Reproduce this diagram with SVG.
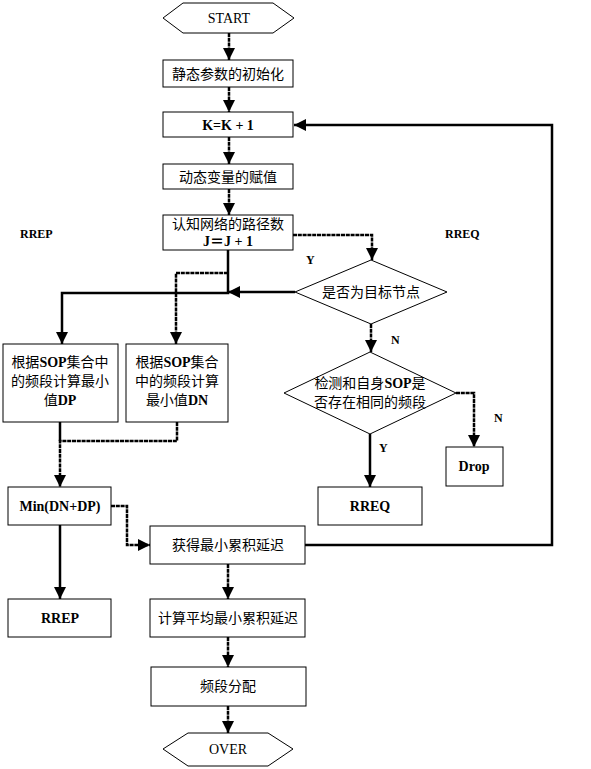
<svg xmlns="http://www.w3.org/2000/svg" width="591" height="769" viewBox="0 0 591 769">
<defs>
<marker id="ah" markerUnits="userSpaceOnUse" markerWidth="12" markerHeight="12" refX="12" refY="6" orient="auto">
<path d="M0,0 L12,6 L0,12 z" fill="#000"/>
</marker>
<style>
.box{fill:#fff;stroke:#000;stroke-width:1}
.t{font-family:"Liberation Serif","Noto Sans CJK SC",serif;font-size:14px;fill:#000;text-anchor:middle}
.b{font-weight:bold}
.lbl{font-family:"Liberation Serif",serif;font-size:12px;font-weight:bold;fill:#000}
.c{fill:none;stroke:#000;stroke-width:2.5}
.d{stroke-dasharray:4 0.8}
</style>
</defs>
<rect width="591" height="769" fill="#fff"/>
<g id="connectors">
<path class="c d" d="M229,33 V60" marker-end="url(#ah)"/>
<path class="c d" d="M229,87 V112" marker-end="url(#ah)"/>
<path class="c d" d="M229,137 V164" marker-end="url(#ah)"/>
<path class="c d" d="M229,189 V215" marker-end="url(#ah)"/>
<path class="c d" d="M293,235 H372 V260" marker-end="url(#ah)"/>
<path class="c" d="M228,250 V293 H62 V344" marker-end="url(#ah)"/>
<path class="c" d="M295,292 H228" marker-end="url(#ah)"/>
<path class="c d" d="M228,273 H176 V344" marker-end="url(#ah)"/>
<path class="c d" d="M371,324 V352" marker-end="url(#ah)"/>
<path class="c d" d="M456,393 H474 V447" marker-end="url(#ah)"/>
<path class="c" d="M370,434 V487" marker-end="url(#ah)"/>
<path class="c" d="M60,422 V441"/>
<path class="c d" d="M177,422 V441 H60 V487" marker-end="url(#ah)"/>
<path class="c d" d="M111,506 H127 V545 H150" marker-end="url(#ah)"/>
<path class="c" d="M60,525 V599" marker-end="url(#ah)"/>
<path class="c" d="M305,545 H552 V125 H294" marker-end="url(#ah)"/>
<path class="c d" d="M228,564 V599" marker-end="url(#ah)"/>
<path class="c d" d="M228,637 V667" marker-end="url(#ah)"/>
<path class="c d" d="M228,706 V733" marker-end="url(#ah)"/>
</g>
<g id="start">
<polygon class="box" points="163,18 183,3 273,3 294,18 273,33 183,33"/>
<text class="t" x="229" y="23">START</text>
</g>
<g id="init">
<rect class="box" x="163" y="60" width="130" height="27"/>
<text class="t" x="228" y="79">静态参数的初始化</text>
</g>
<g id="kinc">
<rect class="box" x="163" y="112" width="130" height="25"/>
<text class="t b" x="228" y="130">K=K + 1</text>
</g>
<g id="dyn">
<rect class="box" x="163" y="164" width="130" height="25"/>
<text class="t" x="228" y="182">动态变量的赋值</text>
</g>
<g id="paths">
<rect class="box" x="163" y="215" width="130" height="35"/>
<text class="t" x="228" y="229">认知网络的路径数</text>
<text class="t b" x="228" y="246">J＝J + 1</text>
</g>
<g id="labels">
<text class="lbl" x="20" y="238">RREP</text>
<text class="lbl" x="445" y="238">RREQ</text>
<text class="lbl" x="306" y="264">Y</text>
<text class="lbl" x="391" y="344">N</text>
<text class="lbl" x="494" y="422">N</text>
<text class="lbl" x="379" y="452">Y</text>
</g>
<g id="target">
<polygon class="box" points="295,292 371,260 447,292 371,324"/>
<text class="t" x="371" y="297">是否为目标节点</text>
</g>
<g id="check">
<polygon class="box" points="284,393 370,352 456,393 370,434"/>
<text class="t" x="370" y="388"><tspan>检测和自身</tspan><tspan class="b">SOP</tspan><tspan>是</tspan></text>
<text class="t" x="370" y="407">否存在相同的频段</text>
</g>
<g id="drop">
<rect class="box" x="446" y="447" width="57" height="39"/>
<text class="t b" x="474" y="471">Drop</text>
</g>
<g id="rreq">
<rect class="box" x="318" y="487" width="104" height="38"/>
<text class="t b" x="370" y="511">RREQ</text>
</g>
<g id="dp">
<rect class="box" x="3" y="344" width="115" height="78"/>
<text class="t" x="60" y="367"><tspan>根据</tspan><tspan class="b">SOP</tspan><tspan>集合中</tspan></text>
<text class="t" x="60" y="386">的频段计算最小</text>
<text class="t" x="60" y="405"><tspan>值</tspan><tspan class="b">DP</tspan></text>
</g>
<g id="dn">
<rect class="box" x="126" y="344" width="102" height="78"/>
<text class="t" x="177" y="367"><tspan>根据</tspan><tspan class="b">SOP</tspan><tspan>集合</tspan></text>
<text class="t" x="177" y="386">中的频段计算</text>
<text class="t" x="177" y="405"><tspan>最小值</tspan><tspan class="b">DN</tspan></text>
</g>
<g id="min">
<rect class="box" x="8" y="487" width="103" height="38"/>
<text class="t b" x="60" y="511">Min(DN+DP)</text>
</g>
<g id="rrep">
<rect class="box" x="8" y="599" width="103" height="38"/>
<text class="t b" x="60" y="623">RREP</text>
</g>
<g id="mindelay">
<rect class="box" x="150" y="526" width="155" height="38"/>
<text class="t" x="228" y="550">获得最小累积延迟</text>
</g>
<g id="avgdelay">
<rect class="box" x="150" y="599" width="155" height="38"/>
<text class="t" x="228" y="623">计算平均最小累积延迟</text>
</g>
<g id="alloc">
<rect class="box" x="151" y="667" width="155" height="39"/>
<text class="t" x="228" y="691">频段分配</text>
</g>
<g id="over">
<polygon class="box" points="163,749 188,733 268,733 293,749 268,766 188,766"/>
<text class="t" x="228" y="754">OVER</text>
</g>
</svg>
